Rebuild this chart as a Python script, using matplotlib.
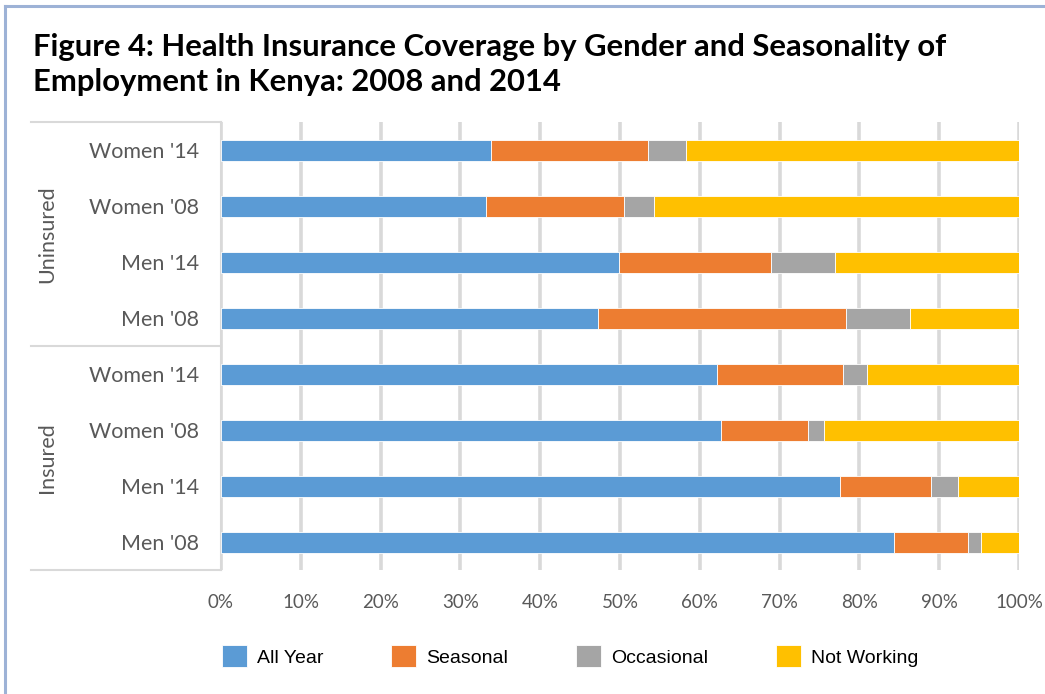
import matplotlib
matplotlib.use("Agg")
import matplotlib.pyplot as plt
from matplotlib.lines import Line2D
import numpy as np

# data, listed top to bottom as in the chart
categories = ["Women '14", "Women '08", "Men '14", "Men '08",
              "Women '14", "Women '08", "Men '14", "Men '08"]
groups = ["Uninsured", "Insured"]
all_year   = [33.8, 33.2, 49.9, 47.2, 62.2, 62.6, 77.6, 84.3]
seasonal   = [19.7, 17.3, 19.0, 31.1, 15.8, 11.0, 11.4, 9.3]
occasional = [4.8, 3.8, 8.1, 8.0, 3.0, 2.0, 3.3, 1.7]
not_working = [41.7, 45.7, 23.0, 13.7, 19.0, 24.4, 7.7, 4.7]
series_names = ["All Year", "Seasonal", "Occasional", "Not Working"]
colors = ["#5b9bd5", "#ed7d31", "#a5a5a5", "#ffc000"]
xticks = np.arange(0, 101, 10)
xticklabels = [f"{v}%" for v in xticks]

W, H = 1045, 694
fig = plt.figure(figsize=(W / 100, H / 100), dpi=100)
ax = fig.add_axes([221 / W, 1 - 570 / H, 798 / W, 448 / H])

y = np.arange(len(categories))
left = np.zeros(len(categories))
handles = []
for name, vals, c in zip(series_names, [all_year, seasonal, occasional, not_working], colors):
    b = ax.barh(y, vals, left=left, height=0.375, color=c, edgecolor="white",
                linewidth=0.6, label=name, zorder=3)
    handles.append(b)
    left = left + np.array(vals)

ax.set_ylim(len(categories) - 0.5, -0.5)
ax.set_xlim(0, 100)
ax.set_yticks(y)
ax.set_yticklabels(categories, family="Lato", fontsize=15.5, color="#595959")
ax.set_xticks(xticks)
ax.set_xticklabels(xticklabels, family="Lato", fontsize=13.5, color="#595959")
ax.tick_params(axis="y", length=0, pad=16)
ax.tick_params(axis="x", length=0, pad=17)
ax.grid(axis="x", color="#d9d9d9", linewidth=2.6, zorder=0)
ax.set_axisbelow(True)
for s in ["top", "right", "bottom", "left"]:
    ax.spines[s].set_visible(False)

# group brackets on the left
gx0 = (31 - 221) / 798
for yy in [-0.5, 3.5, 7.5]:
    ax.plot([gx0, 0], [yy, yy], transform=ax.get_yaxis_transform(),
            color="#d9d9d9", lw=1.5, clip_on=False)
ax.plot([0, 0], [-0.5, 7.5], color="#d9d9d9", lw=1.5, clip_on=False, zorder=1)
for g, yc in zip(groups, [1.5, 5.5]):
    ax.text((47 - 221) / 798, yc, g, transform=ax.get_yaxis_transform(),
            rotation=90, ha="center", va="center", family="Lato",
            fontsize=15.5, color="#595959")

fig.text(33 / W, 1 - 33 / H,
         "Figure 4: Health Insurance Coverage by Gender and Seasonality of\nEmployment in Kenya: 2008 and 2014",
         family="Lato", fontweight="bold", fontsize=22.3, color="black",
         ha="left", va="top", linespacing=1.3)

fig.legend(handles=handles, loc="center left", bbox_to_anchor=(222 / W, 1 - 656 / H),
           ncol=4, frameon=False, prop={"family": "Liberation Sans", "size": 14},
           handlelength=1.29, handleheight=1.29, handletextpad=0.5,
           columnspacing=3.5, borderpad=0, borderaxespad=0)

# light blue frame (top and left edges)
fig.add_artist(Line2D([5 / W, 1], [1 - 6 / H, 1 - 6 / H], color="#9db2d6", lw=2.2))
fig.add_artist(Line2D([5 / W, 5 / W], [0, 1 - 6 / H], color="#9db2d6", lw=2.2))

fig.savefig("out.png", dpi=100)
